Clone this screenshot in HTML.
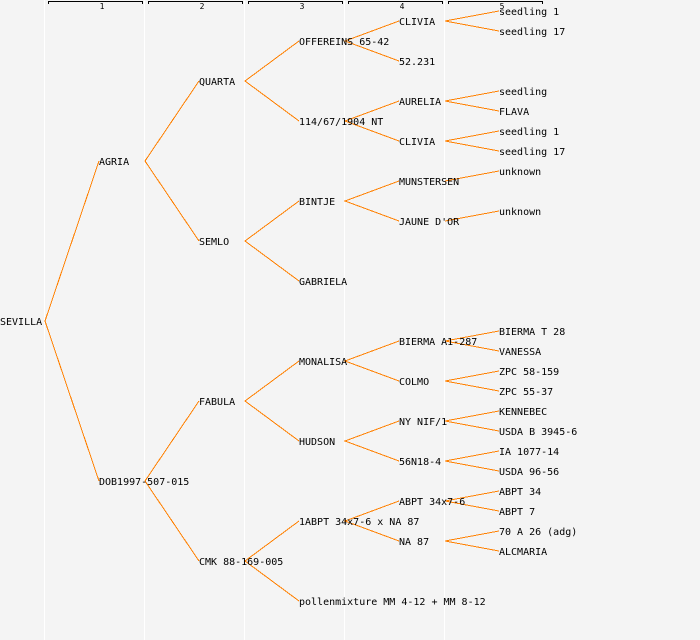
<!DOCTYPE html>
<html>
<head>
<meta charset="utf-8">
<style>
html,body{margin:0;padding:0;background:#f4f4f4;width:700px;height:640px;overflow:hidden}
svg{display:block}
text{font-family:"DejaVu Sans Mono","Liberation Mono",monospace;font-size:10px;fill:#000;white-space:pre}
.n{font-size:8px;text-anchor:middle}
</style>
</head>
<body>
<svg width="700" height="640" viewBox="0 0 700 640" xmlns="http://www.w3.org/2000/svg">
<rect width="700" height="640" fill="#f4f4f4"/>
<g fill="#ffffff">
<rect x="44" y="0" width="1" height="640"/>
<rect x="144" y="0" width="1" height="640"/>
<rect x="244" y="0" width="1" height="640"/>
<rect x="344" y="0" width="1" height="640"/>
<rect x="444" y="0" width="1" height="640"/>
</g>
<g fill="none" stroke="#000" stroke-width="1" shape-rendering="crispEdges">
<path d="M48.5 4V1.5H142.5V4"/>
<path d="M148.5 4V1.5H242.5V4"/>
<path d="M248.5 4V1.5H342.5V4"/>
<path d="M348.5 4V1.5H442.5V4"/>
<path d="M448.5 4V1.5H542.5V4"/>
</g>
<text class="n" x="102" y="9">1</text>
<text class="n" x="202" y="9">2</text>
<text class="n" x="302" y="9">3</text>
<text class="n" x="402" y="9">4</text>
<text class="n" x="502" y="9">5</text>
<g fill="none" stroke="#ff8000" stroke-width="1" shape-rendering="crispEdges">
<path d="M99 161L45 321L99 481"/>
<path d="M199 81L145 161L199 241"/>
<path d="M199 401L145 481L199 561"/>
<path d="M299 41L245 81L299 121"/>
<path d="M299 201L245 241L299 281"/>
<path d="M299 361L245 401L299 441"/>
<path d="M299 521L245 561L299 601"/>
<path d="M399 21L345 41L399 61"/>
<path d="M399 101L345 121L399 141"/>
<path d="M399 181L345 201L399 221"/>
<path d="M399 341L345 361L399 381"/>
<path d="M399 421L345 441L399 461"/>
<path d="M399 501L345 521L399 541"/>
<path d="M499 11L445 21L499 31"/>
<path d="M499 91L445 101L499 111"/>
<path d="M499 131L445 141L499 151"/>
<path d="M499 171L445 181"/>
<path d="M499 211L445 221"/>
<path d="M499 331L445 341L499 351"/>
<path d="M499 371L445 381L499 391"/>
<path d="M499 411L445 421L499 431"/>
<path d="M499 451L445 461L499 471"/>
<path d="M499 491L445 501L499 511"/>
<path d="M499 531L445 541L499 551"/>
</g>
<text x="0" y="325">SEVILLA</text>
<text x="99" y="165">AGRIA</text>
<text x="99" y="485">DOB1997-507-015</text>
<text x="199" y="85">QUARTA</text>
<text x="199" y="245">SEMLO</text>
<text x="199" y="405">FABULA</text>
<text x="199" y="565">CMK 88-169-005</text>
<text x="299" y="45">OFFEREINS 65-42</text>
<text x="299" y="125">114/67/1904 NT</text>
<text x="299" y="205">BINTJE</text>
<text x="299" y="285">GABRIELA</text>
<text x="299" y="365">MONALISA</text>
<text x="299" y="445">HUDSON</text>
<text x="299" y="525">1ABPT 34x7-6 x NA 87</text>
<text x="299" y="605">pollenmixture MM 4-12 + MM 8-12</text>
<text x="399" y="25">CLIVIA</text>
<text x="399" y="65">52.231</text>
<text x="399" y="105">AURELIA</text>
<text x="399" y="145">CLIVIA</text>
<text x="399" y="185">MUNSTERSEN</text>
<text x="399" y="225">JAUNE D'OR</text>
<text x="399" y="345">BIERMA A1-287</text>
<text x="399" y="385">COLMO</text>
<text x="399" y="425">NY NIF/1</text>
<text x="399" y="465">56N18-4</text>
<text x="399" y="505">ABPT 34x7-6</text>
<text x="399" y="545">NA 87</text>
<text x="499" y="15">seedling 1</text>
<text x="499" y="35">seedling 17</text>
<text x="499" y="95">seedling</text>
<text x="499" y="115">FLAVA</text>
<text x="499" y="135">seedling 1</text>
<text x="499" y="155">seedling 17</text>
<text x="499" y="175">unknown</text>
<text x="499" y="215">unknown</text>
<text x="499" y="335">BIERMA T 28</text>
<text x="499" y="355">VANESSA</text>
<text x="499" y="375">ZPC 58-159</text>
<text x="499" y="395">ZPC 55-37</text>
<text x="499" y="415">KENNEBEC</text>
<text x="499" y="435">USDA B 3945-6</text>
<text x="499" y="455">IA 1077-14</text>
<text x="499" y="475">USDA 96-56</text>
<text x="499" y="495">ABPT 34</text>
<text x="499" y="515">ABPT 7</text>
<text x="499" y="535">70 A 26 (adg)</text>
<text x="499" y="555">ALCMARIA</text>
</svg>
</body>
</html>
